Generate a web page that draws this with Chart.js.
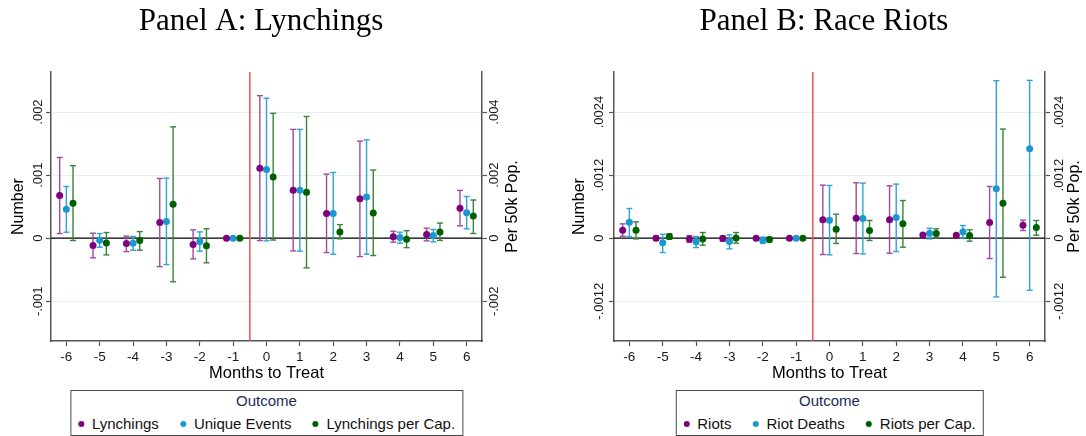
<!DOCTYPE html>
<html>
<head>
<meta charset="utf-8">
<script src="https://cdn.jsdelivr.net/npm/chart.js@4.4.1/dist/chart.umd.min.js"></script>
<style>
  body { margin: 0; background: #fff; width: 1086px; height: 436px; position: relative; overflow: hidden;
         font-family: 'Liberation Sans', Arial, sans-serif; }
  canvas { position: absolute; top: 0; }
  #chartA { left: 0; }
  #chartB { left: 563px; }
  .legend { position: absolute; top: 390px; transform: translateX(-50%); border: 1px solid #4a4a4a;
            padding: 0 7px 1px 7px; white-space: nowrap; background: #fff; }
  .legend .ttl { text-align: center; color: #1c2b5e; font-size: 15px; line-height: 20px; }
  .legend .items { font-size: 15px; line-height: 20px; margin-top: 1px; color: #111; }
  .legend .item { display: inline-flex; align-items: center; margin-left: 21px; }
  .legend .item:first-child { margin-left: 0; }
  .legend .dot { width: 6px; height: 6px; border-radius: 50%; margin-right: 8px; }
</style>
</head>
<body>
<canvas id="chartA" width="522" height="390"></canvas>
<canvas id="chartB" width="522" height="390"></canvas>
<div class="legend" id="legendA"></div>
<div class="legend" id="legendB"></div>
<script>
// Event-study estimates by months to treatment (point, lower CI, upper CI)
const months = [-6, -5, -4, -3, -2, -1, 0, 1, 2, 3, 4, 5, 6];
const treatCut = -0.5;

// Panel A: lynchings (left axis = number, right axis = per 50k pop.)
const lynchEst = [0.000677, -0.000116, -0.000085, 0.000249, -0.000100, 0, 0.00111, 0.000762, 0.000392, 0.000624, 0.000021, 0.000058, 0.000476];
const lynchLo  = [0.000074, -0.000312, -0.000212, -0.00045, -0.000328, null, -0.000037, -0.000201, -0.000228, -0.000291, -0.000063, -0.000042, 0.000196];
const lynchHi  = [0.00128, 0.000079, 0.000032, 0.000947, 0.000132, null, 0.00226, 0.001725, 0.001016, 0.00154, 0.000111, 0.000159, 0.000757];

const eventsEst = [0.00046, -0.000032, -0.000079, 0.000265, -0.000053, 0, 0.00109, 0.000762, 0.000392, 0.000653, 0.000011, 0.000042, 0.000402];
const eventsLo  = [0.000095, -0.000143, -0.00019, -0.000418, -0.000206, null, -0.000042, -0.000206, -0.000254, -0.000254, -0.000079, -0.000058, 0.000148];
const eventsHi  = [0.00082, 0.000074, 0.000026, 0.000952, 0.0001, null, 0.00222, 0.001725, 0.001042, 0.00156, 0.000095, 0.000138, 0.000661];

const lynchCapEst = [0.00111, -0.00015, -0.000074, 0.00108, -0.00024, 0, 0.00194, 0.00146, 0.0002, 0.0008, -0.00003, 0.0002, 0.0007];
const lynchCapLo  = [-0.000074, -0.00053, -0.00038, -0.00138, -0.00078, null, -0.00006, -0.00094, -0.00002, -0.00055, -0.0003, -0.00007, 0.00015];
const lynchCapHi  = [0.0023, 0.00018, 0.00021, 0.00353, 0.0003, null, 0.00396, 0.00386, 0.00043, 0.00216, 0.00024, 0.00048, 0.00121];

// Panel B: race riots
const riotsEst = [0.000152, 0, -0.000013, -0.000006, 0, 0, 0.000349, 0.000381, 0.000349, 0.000063, 0.000057, 0.000298, 0.000248];
const riotsLo  = [0.000038, -0.00004, -0.00008, -0.000057, -0.000008, null, -0.000311, -0.000292, -0.000286, 0.000045, 0.000040, -0.000387, 0.000146];
const riotsHi  = [0.000273, 0.00004, 0.00005, 0.000044, 0.000008, null, 0.00101, 0.001054, 0.000997, 0.000081, 0.000074, 0.000984, 0.000343];

const deathsEst = [0.000305, -0.000089, -0.00007, -0.000063, -0.000038, 0, 0.000343, 0.000375, 0.000394, 0.000095, 0.000121, 0.00094, 0.0017];
const deathsLo  = [0.000032, -0.000273, -0.000178, -0.000203, -0.0001, null, -0.000317, -0.000298, -0.000254, -0.000013, 0.000006, -0.001117, -0.00099];
const deathsHi  = [0.000565, 0.000076, 0.000032, 0.000063, 0.000019, null, 0.001003, 0.001048, 0.001029, 0.00019, 0.000241, 0.002997, 0.003003];

const riotsCapEst = [0.000152, 0.000032, -0.000013, 0.000006, -0.000025, 0, 0.000171, 0.000146, 0.000273, 0.000089, 0.000051, 0.000667, 0.000203];
const riotsCapLo  = [-0.000013, -0.000019, -0.000133, -0.000095, -0.000076, null, -0.0001, -0.000044, -0.000171, 0.000006, -0.000057, -0.000743, 0.000057];
const riotsCapHi  = [0.000311, 0.000083, 0.000108, 0.000108, 0.000019, null, 0.000457, 0.000337, 0.000717, 0.000178, 0.000159, 0.002076, 0.000337];

// Axis ticks
const ticksA  = [-0.001, 0, 0.001, 0.002];
const ticksA2 = [-0.002, 0, 0.002, 0.004];
const ticksB  = [-0.0012, 0, 0.0012, 0.0024];

const xMin = -6.46, xMax = 6.46;
const rangeA  = [-0.00163, 0.002635];
const rangeA2 = [-0.00326, 0.00527];
const rangeB  = [-0.001956, 0.003162];

const purple = '#7f007f', purpleCI = '#a24aa2';
const blue = '#1b98d0', blueCI = '#2fa3d8';
const green = '#006000', greenCI = '#3a833a';

const sans = "'Liberation Sans', Arial, sans-serif";

// Stata-style number format: drop the leading zero
function stataFmt(v) {
    return String(v).replace('0.', '.');
}

function estPoints(est, shift) {
    return months.map((m, i) => ({ x: m + shift, y: est[i] }));
}

// Each interval is two points followed by a gap
function ciPoints(lo, hi, shift) {
    const pts = [];
    months.forEach((m, i) => {
        if (lo[i] === null) return;
        pts.push({ x: m + shift, y: lo[i] }, { x: m + shift, y: hi[i] }, { x: m + shift, y: null });
    });
    return pts;
}

function seriesSets(label, est, lo, hi, shift, color, ciColor, axis) {
    return [
        {
            type: 'scatter', label: label, data: estPoints(est, shift), yAxisID: axis,
            backgroundColor: color, borderColor: color, borderWidth: 0, pointRadius: 3.5, order: 0
        },
        {
            type: 'line', label: label + ' CI', data: ciPoints(lo, hi, shift), yAxisID: axis,
            borderColor: ciColor, borderWidth: 1.4, showLine: true, spanGaps: false, fill: false,
            pointStyle: 'line', pointRadius: 3, pointBorderColor: ciColor, pointBorderWidth: 1.4,
            pointBackgroundColor: ciColor, order: 1
        }
    ];
}

// Zero line and treatment-date line
const refLines = {
    id: 'refLines',
    beforeDatasetsDraw(chart, args, opts) {
        const { ctx, chartArea: a, scales } = chart;
        ctx.save();
        const y0 = scales.y.getPixelForValue(0);
        ctx.strokeStyle = '#000';
        ctx.lineWidth = 1.2;
        ctx.beginPath();
        ctx.moveTo(a.left, y0);
        ctx.lineTo(a.right, y0);
        ctx.stroke();
        const xt = scales.x.getPixelForValue(opts.treatAt);
        ctx.strokeStyle = '#f05050';
        ctx.lineWidth = 1.5;
        ctx.beginPath();
        ctx.moveTo(xt, a.top);
        ctx.lineTo(xt, a.bottom);
        ctx.stroke();
        ctx.restore();
    }
};

// Vertical tick labels and axis titles on both y axes
const sideLabels = {
    id: 'sideLabels',
    afterDraw(chart, args, opts) {
        const ctx = chart.ctx;
        const a = chart.chartArea;
        ctx.save();
        ctx.textAlign = 'center';
        ctx.textBaseline = 'middle';
        ['y', 'y2'].forEach(id => {
            const s = chart.scales[id];
            const c = opts[id];
            const left = s.position === 'left';
            const edge = left ? s.right : s.left;
            const tx = left ? edge - c.tickGap : edge + c.tickGap;
            ctx.fillStyle = '#1a1a1a';
            ctx.font = '13px ' + sans;
            s.ticks.forEach(t => {
                ctx.save();
                ctx.translate(tx, s.getPixelForValue(t.value));
                ctx.rotate(-Math.PI / 2);
                ctx.fillText(t.label, 0, 0);
                ctx.restore();
            });
            const hx = left ? edge - c.titleGap : edge + c.titleGap;
            ctx.fillStyle = '#000';
            ctx.font = '16px ' + sans;
            ctx.save();
            ctx.translate(hx, (a.top + a.bottom) / 2);
            ctx.rotate(-Math.PI / 2);
            ctx.fillText(c.title, 0, 0);
            ctx.restore();
        });
        ctx.restore();
    }
};

function yScale(position, range, ticks, width, onArea) {
    return {
        type: 'linear', position: position, min: range[0], max: range[1],
        afterBuildTicks: s => { s.ticks = ticks.map(v => ({ value: v })); },
        afterFit: s => { s.width = width; },
        ticks: { display: false, callback: v => stataFmt(v) },
        grid: { drawOnChartArea: onArea, color: '#e5eef1', lineWidth: 1, tickLength: 5, tickColor: '#555', tickWidth: 1.2 },
        border: { color: '#555', width: 1.5 }
    };
}

function makePanel(canvasId, title, datasets, yCfg, y2Cfg, sideCfg) {
    return new Chart(document.getElementById(canvasId), {
        type: 'scatter',
        data: { datasets: datasets },
        options: {
            responsive: false,
            animation: false,
            events: [],
            layout: { padding: 0 },
            plugins: {
                legend: { display: false },
                tooltip: { enabled: false },
                title: {
                    display: true, text: title, color: '#000',
                    font: { family: "'Liberation Serif', 'Times New Roman', serif", size: 31, weight: 'normal' },
                    padding: { top: 3, bottom: 31.8 }
                },
                refLines: { treatAt: treatCut },
                sideLabels: sideCfg
            },
            scales: {
                x: {
                    type: 'linear', min: xMin, max: xMax,
                    afterBuildTicks: s => { s.ticks = months.map(v => ({ value: v })); },
                    afterFit: s => { s.height = 49; },
                    ticks: { color: '#1a1a1a', font: { family: sans, size: 13.5 }, padding: 3, maxRotation: 0, autoSkip: false },
                    grid: { drawOnChartArea: false, tickLength: 5, tickColor: '#555', tickWidth: 1.2 },
                    border: { color: '#555', width: 1.5 },
                    title: {
                        display: true, text: 'Months to Treat', color: '#000',
                        font: { family: sans, size: 16.5 }, padding: { top: 0, bottom: 6.5 }
                    }
                },
                y: yCfg,
                y2: y2Cfg
            }
        },
        plugins: [refLines, sideLabels]
    });
}

function buildLegend(elId, chart, canvasLeft) {
    const el = document.getElementById(elId);
    const a = chart.chartArea;
    el.style.left = (canvasLeft + (a.left + a.right) / 2) + 'px';
    let html = '<div class="ttl">Outcome</div><div class="items">';
    chart.data.datasets.filter(d => d.type === 'scatter').forEach(d => {
        html += '<span class="item"><span class="dot" style="background:' + d.backgroundColor + '"></span>' + d.label + '</span>';
    });
    el.innerHTML = html + '</div>';
}

const chartA = makePanel('chartA', 'Panel A: Lynchings',
    [].concat(
        seriesSets('Lynchings', lynchEst, lynchLo, lynchHi, -0.2, purple, purpleCI, 'y'),
        seriesSets('Unique Events', eventsEst, eventsLo, eventsHi, 0, blue, blueCI, 'y'),
        seriesSets('Lynchings per Cap.', lynchCapEst, lynchCapLo, lynchCapHi, 0.2, green, greenCI, 'y2')
    ),
    yScale('left', rangeA, ticksA, 51, true),
    yScale('right', rangeA2, ticksA2, 40, false),
    {
        y: { tickGap: 12.3, titleGap: 32.5, title: 'Number' },
        y2: { tickGap: 12.3, titleGap: 31, title: 'Per 50k Pop.' }
    }
);

const chartB = makePanel('chartB', 'Panel B: Race Riots',
    [].concat(
        seriesSets('Riots', riotsEst, riotsLo, riotsHi, -0.2, purple, purpleCI, 'y'),
        seriesSets('Riot Deaths', deathsEst, deathsLo, deathsHi, 0, blue, blueCI, 'y'),
        seriesSets('Riots per Cap.', riotsCapEst, riotsCapLo, riotsCapHi, 0.2, green, greenCI, 'y2')
    ),
    yScale('left', rangeB, ticksB, 51, true),
    yScale('right', rangeB, ticksB, 40, false),
    {
        y: { tickGap: 14.3, titleGap: 34.7, title: 'Number' },
        y2: { tickGap: 14.3, titleGap: 30, title: 'Per 50k Pop.' }
    }
);

buildLegend('legendA', chartA, 0);
buildLegend('legendB', chartB, 563);
</script>
</body>
</html>
